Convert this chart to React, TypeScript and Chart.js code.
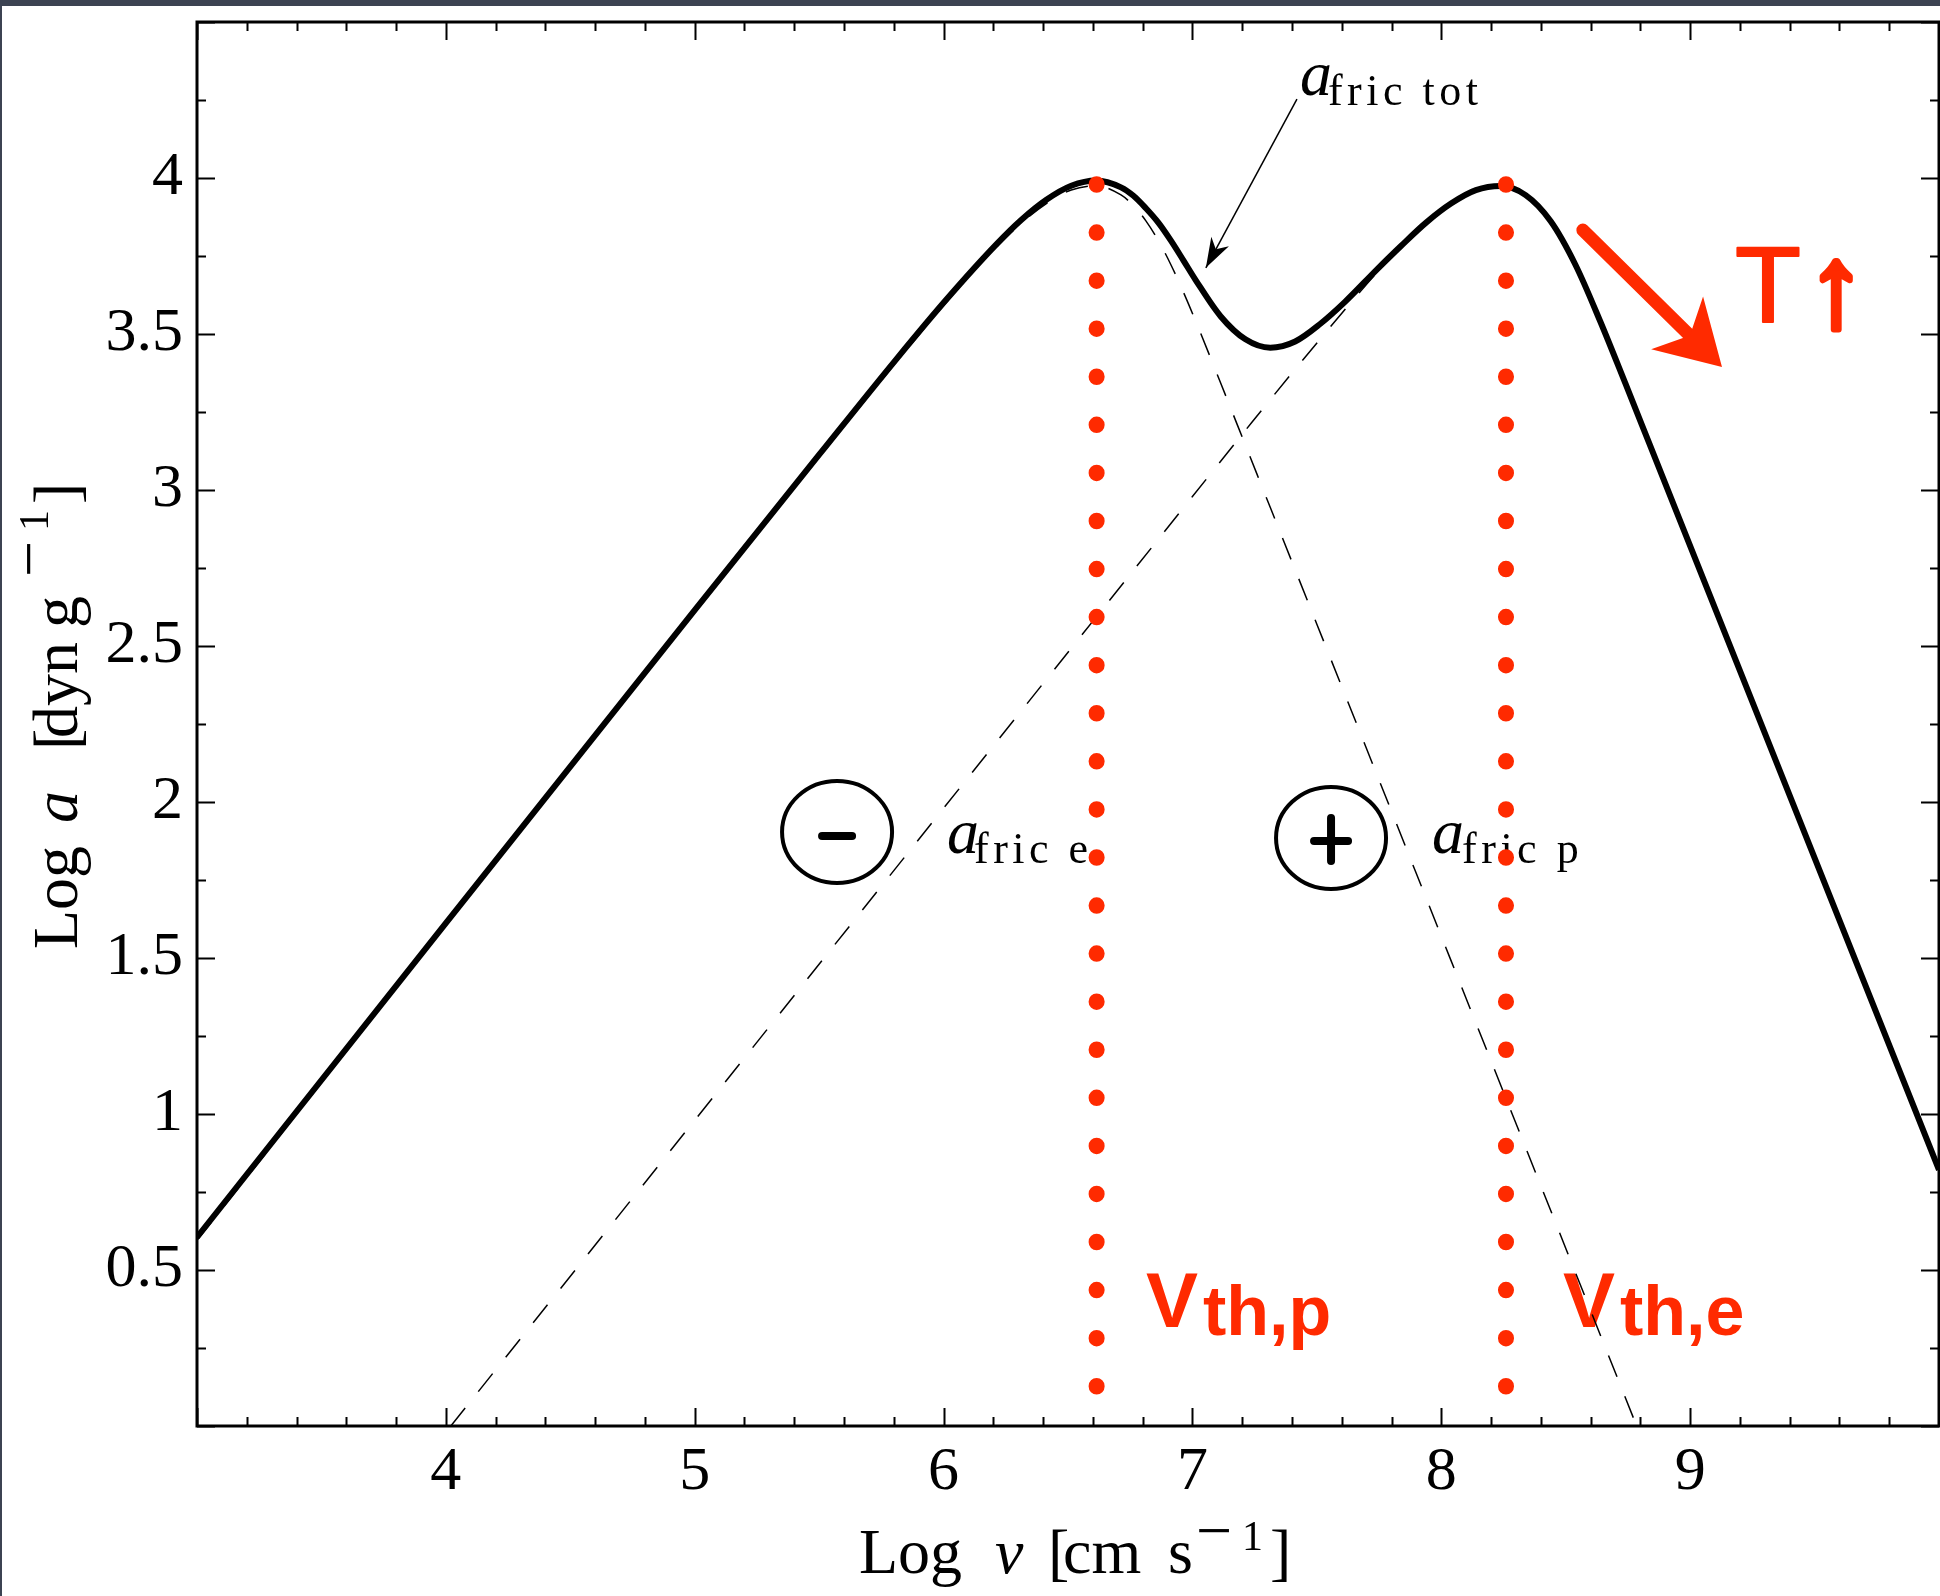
import React, { useEffect, useRef } from "react";
import { Chart, registerables } from "chart.js";

Chart.register(...registerables);

// ---------------- data ----------------
const X_MIN = 3;
const X_MAX = 10;
const Y_MIN = 0;
const Y_MAX = 4.5;

const X_TICK_VALUES = [4, 5, 6, 7, 8, 9];
const X_TICK_LABELS = ["4", "5", "6", "7", "8", "9"];
const Y_TICK_VALUES = [0.5, 1, 1.5, 2, 2.5, 3, 3.5, 4];
const Y_TICK_LABELS = ["0.5", "1", "1.5", "2", "2.5", "3", "3.5", "4"];

// a_fric tot (thick solid)
const TOTAL_X = [3.0, 4.0, 5.0, 5.5, 5.813, 6.013, 6.213, 6.313, 6.413, 6.513, 6.613, 6.713, 6.763, 6.813, 6.863, 6.913, 6.963, 7.013, 7.113, 7.213, 7.313, 7.413, 7.513, 7.613, 7.739, 7.839, 7.939, 8.039, 8.139, 8.239, 8.339, 8.439, 8.539, 8.639, 8.739, 8.839, 8.939, 9.5, 10.0];
const TOTAL_Y = [0.605, 1.612, 2.615, 3.113, 3.422, 3.612, 3.788, 3.866, 3.93, 3.975, 3.992, 3.97, 3.943, 3.903, 3.857, 3.8, 3.737, 3.673, 3.557, 3.483, 3.456, 3.476, 3.532, 3.603, 3.705, 3.783, 3.857, 3.918, 3.961, 3.974, 3.945, 3.862, 3.722, 3.54, 3.343, 3.143, 2.943, 1.821, 0.821];

// a_fric e (dashed, electrons)
const ELEC_X = [4.02, 5.0, 6.0, 7.0, 7.239, 7.439, 7.639, 7.739, 7.839, 7.939, 8.039, 8.139, 8.239, 8.339, 8.439, 8.539, 8.639, 8.739, 8.839, 8.939, 9.5, 10.0];
const ELEC_Y = [0.0, 0.98, 1.98, 2.979, 3.217, 3.4125, 3.603, 3.695, 3.778, 3.855, 3.917, 3.961, 3.974, 3.945, 3.862, 3.722, 3.54, 3.343, 3.143, 2.943, 1.821, 0.821];

// a_fric p (dashed, protons)
const PROT_X = [3.0, 4.0, 5.0, 5.5, 5.813, 6.013, 6.113, 6.213, 6.313, 6.413, 6.513, 6.613, 6.713, 6.763, 6.813, 6.863, 6.913, 6.963, 7.013, 7.113, 7.213, 7.313, 7.5, 8.0, 8.5, 8.785];
const PROT_Y = [0.595, 1.605, 2.607, 3.105, 3.4135, 3.6037, 3.6957, 3.7789, 3.8557, 3.9182, 3.9616, 3.975, 3.9456, 3.9115, 3.8627, 3.7994, 3.7229, 3.6356, 3.5413, 3.3436, 3.1437, 2.9437, 2.57, 1.57, 0.57, 0.0];

// thermal velocities (red dotted verticals)
const VTH_P = 6.615;
const VTH_E = 8.26;
const VTH_DOT_TOP = 3.98;
const VTH_DOT_BOTTOM = 0.125;

// ---------------- styling ----------------
const SERIF = "'Liberation Serif', 'Times New Roman', serif";
const SANS = "'Liberation Sans', Arial, sans-serif";
const RED = "#ff2a00";
const BG_DARK = "#3c4352";

type Seg = { text: string; font: string; dx: number; dy?: number };

const X_TITLE: Seg[] = [
  { text: "Log", font: `64px ${SERIF}`, dx: 0 },
  { text: "v", font: `italic 64px ${SERIF}`, dx: 136 },
  { text: "[", font: `64px ${SERIF}`, dx: 189 },
  { text: "cm", font: `64px ${SERIF}`, dx: 204 },
  { text: "s", font: `64px ${SERIF}`, dx: 309 },
  { text: "\u2212", font: `64px ${SERIF}`, dx: 337, dy: -21 },
  { text: "1", font: `42px ${SERIF}`, dx: 383, dy: -23 },
  { text: "]", font: `64px ${SERIF}`, dx: 411 },
];

const Y_TITLE: Seg[] = [
  { text: "Log", font: `64px ${SERIF}`, dx: 0 },
  { text: "a", font: `italic 64px ${SERIF}`, dx: 126 },
  { text: "[", font: `64px ${SERIF}`, dx: 199 },
  { text: "dyn", font: `64px ${SERIF}`, dx: 211 },
  { text: "g", font: `64px ${SERIF}`, dx: 321 },
  { text: "\u2212", font: `64px ${SERIF}`, dx: 372, dy: -27 },
  { text: "1", font: `42px ${SERIF}`, dx: 418, dy: -29 },
  { text: "]", font: `64px ${SERIF}`, dx: 445 },
];

function drawSegs(ctx: CanvasRenderingContext2D, segs: Seg[], x0: number, y0: number) {
  ctx.textAlign = "left";
  ctx.textBaseline = "alphabetic";
  for (const s of segs) {
    ctx.font = s.font;
    ctx.fillText(s.text, x0 + s.dx, y0 + (s.dy || 0));
  }
}

function toXY(xs: number[], ys: number[]) {
  return xs.map((x, i) => ({ x, y: ys[i] }));
}

const backgroundPlugin = {
  id: "bgPlugin",
  beforeDraw(chart: any) {
    const { ctx, width, height } = chart;
    ctx.save();
    ctx.fillStyle = "#ffffff";
    ctx.fillRect(0, 0, width, height);
    ctx.fillStyle = BG_DARK;
    ctx.fillRect(0, 0, width, 6);
    ctx.fillRect(0, 0, 2, height);
    ctx.restore();
  },
};

function subLabel(ctx: CanvasRenderingContext2D, x: number, y: number, sub: string, subDx: number) {
  ctx.textAlign = "left";
  ctx.textBaseline = "alphabetic";
  ctx.fillStyle = "#000";
  ctx.font = `italic 64px ${SERIF}`;
  ctx.fillText("a", x, y);
  ctx.font = `44px ${SERIF}`;
  (ctx as any).letterSpacing = "4.5px";
  ctx.fillText(sub, x + subDx, y + 10);
  (ctx as any).letterSpacing = "0px";
}

const annotationPlugin = {
  id: "annotations",
  beforeDatasetsDraw(chart: any) {
    const { ctx, scales } = chart;
    const X = (v: number) => scales.x.getPixelForValue(v);
    const Y = (v: number) => scales.y.getPixelForValue(v);
    ctx.save();

    // labels
    subLabel(ctx, X(7.432), Y(4.266), "fric tot", 28);
    subLabel(ctx, X(6.014), Y(1.837), "fric e", 27);
    subLabel(ctx, X(7.963), Y(1.837), "fric p", 30);

    // arrow to total curve
    const ax0 = X(7.42), ay0 = Y(4.253), ax1 = X(7.054), ay1 = Y(3.712);
    ctx.strokeStyle = "#000";
    ctx.lineWidth = 1.5;
    ctx.beginPath();
    ctx.moveTo(ax0, ay0);
    ctx.lineTo(ax1, ay1);
    ctx.stroke();
    {
      const dx = ax0 - ax1, dy = ay0 - ay1;
      const L = Math.hypot(dx, dy);
      const ux = dx / L, uy = dy / L;
      const px = -uy, py = ux;
      ctx.fillStyle = "#000";
      ctx.beginPath();
      ctx.moveTo(ax1, ay1);
      ctx.lineTo(ax1 + ux * 30 + px * 10, ay1 + uy * 30 + py * 10);
      ctx.lineTo(ax1 + ux * 21, ay1 + uy * 21);
      ctx.lineTo(ax1 + ux * 30 - px * 10, ay1 + uy * 30 - py * 10);
      ctx.closePath();
      ctx.fill();
    }

    // circled signs
    ctx.lineWidth = 4;
    ctx.strokeStyle = "#000";
    const mcx = X(5.572), mcy = Y(1.904);
    ctx.beginPath();
    ctx.ellipse(mcx, mcy, 55, 51, 0, 0, Math.PI * 2);
    ctx.stroke();
    ctx.lineCap = "round";
    ctx.lineWidth = 8;
    ctx.beginPath();
    ctx.moveTo(mcx - 15, mcy + 4);
    ctx.lineTo(mcx + 15, mcy + 4);
    ctx.stroke();

    const pcx = X(7.557), pcy = Y(1.885);
    ctx.lineWidth = 4;
    ctx.beginPath();
    ctx.ellipse(pcx, pcy, 55, 51, 0, 0, Math.PI * 2);
    ctx.stroke();
    ctx.lineWidth = 8;
    ctx.beginPath();
    ctx.moveTo(pcx - 17, pcy + 3);
    ctx.lineTo(pcx + 17, pcy + 3);
    ctx.moveTo(pcx, pcy - 20);
    ctx.lineTo(pcx, pcy + 23);
    ctx.stroke();
    ctx.lineCap = "butt";

    // red thermal velocity labels
    ctx.fillStyle = RED;
    ctx.strokeStyle = RED;
    ctx.textAlign = "left";
    ctx.textBaseline = "alphabetic";
    const vy = Y(0.317);
    for (const [xv, sub] of [[6.817, "th,p"], [8.493, "th,e"]] as [number, string][]) {
      const vx = X(xv);
      ctx.font = `bold 78px ${SANS}`;
      ctx.fillText("V", vx - 1, vy);
      ctx.font = `bold 70px ${SANS}`;
      ctx.fillText(sub, vx + 56, vy + 8);
    }

    // T ↑
    ctx.lineJoin = "round";
    ctx.font = `108px ${SANS}`;
    ctx.lineWidth = 2;
    ctx.fillText("T", X(9.192) - 3, Y(3.538));
    ctx.strokeText("T", X(9.192) - 3, Y(3.538));
    ctx.textAlign = "center";
    ctx.font = `bold 116px ${SANS}`;
    ctx.lineWidth = 6;
    ctx.fillText("\u2191", X(9.586), Y(3.538) + 4);
    ctx.strokeText("\u2191", X(9.586), Y(3.538) + 4);
    ctx.textAlign = "left";

    // red sketched arrow
    const rx0 = X(8.569), ry0 = Y(3.833), rx1 = X(9.128), ry1 = Y(3.394);
    {
      const dx = rx1 - rx0, dy = ry1 - ry0;
      const L = Math.hypot(dx, dy);
      const ux = dx / L, uy = dy / L;
      const px = -uy, py = ux;
      ctx.lineWidth = 13;
      ctx.lineCap = "round";
      ctx.beginPath();
      ctx.moveTo(rx0, ry0);
      ctx.lineTo(rx1 - ux * 40, ry1 - uy * 40);
      ctx.stroke();
      ctx.beginPath();
      ctx.moveTo(rx1, ry1);
      ctx.lineTo(rx1 - ux * 63 + px * 37, ry1 - uy * 63 + py * 37);
      ctx.lineTo(rx1 - ux * 45, ry1 - uy * 45);
      ctx.lineTo(rx1 - ux * 63 - px * 37, ry1 - uy * 63 - py * 37);
      ctx.closePath();
      ctx.fill();
      ctx.lineCap = "butt";
    }
    ctx.restore();
  },
};

const framePlugin = {
  id: "frameTicks",
  afterDatasetsDraw(chart: any) {
    const { ctx, chartArea: a, scales } = chart;
    const X = (v: number) => scales.x.getPixelForValue(v);
    const Y = (v: number) => scales.y.getPixelForValue(v);
    ctx.save();
    ctx.strokeStyle = "#000";
    ctx.lineWidth = 2;
    ctx.beginPath();
    // x ticks (major each 1, minor each 0.2), bottom and top, pointing inward
    for (let i = 0; i <= 35; i++) {
      const v = X_MIN + i * 0.2;
      const major = i % 5 === 0;
      const len = major ? 18 : 9;
      const p = Math.round(X(v)) + 0.5;
      ctx.moveTo(p, a.bottom);
      ctx.lineTo(p, a.bottom - len);
      ctx.moveTo(p, a.top);
      ctx.lineTo(p, a.top + len);
    }
    // y ticks (major each 0.5, minor each 0.25)
    for (let i = 0; i <= 18; i++) {
      const v = Y_MIN + i * 0.25;
      const major = i % 2 === 0;
      const len = major ? 18 : 9;
      const p = Math.round(Y(v)) + 0.5;
      ctx.moveTo(a.left, p);
      ctx.lineTo(a.left + len, p);
      ctx.moveTo(a.right, p);
      ctx.lineTo(a.right - len, p);
    }
    ctx.stroke();
    ctx.lineWidth = 3;
    ctx.strokeRect(a.left, a.top, a.right - a.left, a.bottom - a.top);
    ctx.restore();
  },
  afterDraw(chart: any) {
    const { ctx, chartArea: a } = chart;
    ctx.save();
    ctx.fillStyle = "#000";
    drawSegs(ctx, X_TITLE, (a.left + a.right) / 2 - 209, a.bottom + 147);
    ctx.translate(a.left - 120, (a.top + a.bottom) / 2 + 225);
    ctx.rotate(-Math.PI / 2);
    drawSegs(ctx, Y_TITLE, 0, 0);
    ctx.restore();
  },
};

export default function App() {
  const ref = useRef<HTMLCanvasElement | null>(null);

  useEffect(() => {
    if (!ref.current) return;
    const dotDash = [0.5, 47.57];
    const chart = new Chart(ref.current, {
      type: "line",
      data: {
        datasets: [
          {
            label: "v_th,p",
            data: [{ x: VTH_P, y: VTH_DOT_TOP }, { x: VTH_P, y: VTH_DOT_BOTTOM }],
            borderColor: RED,
            borderWidth: 16,
            borderDash: dotDash,
            borderCapStyle: "round",
            pointRadius: 0,
            fill: false,
          },
          {
            label: "v_th,e",
            data: [{ x: VTH_E, y: VTH_DOT_TOP }, { x: VTH_E, y: VTH_DOT_BOTTOM }],
            borderColor: RED,
            borderWidth: 16,
            borderDash: dotDash,
            borderCapStyle: "round",
            pointRadius: 0,
            fill: false,
          },
          {
            label: "a fric tot",
            data: toXY(TOTAL_X, TOTAL_Y),
            borderColor: "#000",
            borderWidth: 6,
            cubicInterpolationMode: "monotone",
            pointRadius: 0,
            fill: false,
          },
          {
            label: "a fric e",
            data: toXY(ELEC_X, ELEC_Y),
            borderColor: "#000",
            borderWidth: 1.5,
            borderDash: [23, 21],
            cubicInterpolationMode: "monotone",
            pointRadius: 0,
            fill: false,
          },
          {
            label: "a fric p",
            data: toXY(PROT_X, PROT_Y),
            borderColor: "#000",
            borderWidth: 1.5,
            borderDash: [23, 21],
            cubicInterpolationMode: "monotone",
            pointRadius: 0,
            fill: false,
          },
        ],
      },
      options: {
        responsive: false,
        maintainAspectRatio: false,
        devicePixelRatio: 1,
        animation: false,
        events: [],
        layout: { padding: { top: 22, right: 1, left: 0, bottom: 0 } },
        plugins: { legend: { display: false }, tooltip: { enabled: false } },
        scales: {
          x: {
            type: "linear",
            min: X_MIN,
            max: X_MAX,
            grid: { display: false, drawTicks: false },
            border: { display: false },
            afterBuildTicks: (s: any) => {
              s.ticks = X_TICK_VALUES.map((v) => ({ value: v }));
            },
            afterFit: (s: any) => {
              s.height = 170;
              s.paddingLeft = 0;
              s.paddingRight = 0;
            },
            ticks: {
              autoSkip: false,
              maxRotation: 0,
              padding: 10,
              color: "#000",
              font: { family: SERIF, size: 62 },
              callback: (v: any) => {
                const i = X_TICK_VALUES.indexOf(Number(v));
                return i >= 0 ? X_TICK_LABELS[i] : "";
              },
            },
          },
          y: {
            type: "linear",
            min: Y_MIN,
            max: Y_MAX,
            grid: { display: false, drawTicks: false },
            border: { display: false },
            afterBuildTicks: (s: any) => {
              s.ticks = Y_TICK_VALUES.map((v) => ({ value: v }));
            },
            afterFit: (s: any) => {
              s.width = 197;
              s.paddingTop = 0;
              s.paddingBottom = 0;
            },
            ticks: {
              autoSkip: false,
              padding: 14,
              color: "#000",
              font: { family: SERIF, size: 62 },
              callback: (v: any) => {
                const i = Y_TICK_VALUES.indexOf(Number(v));
                return i >= 0 ? Y_TICK_LABELS[i] : "";
              },
            },
          },
        },
      },
      plugins: [backgroundPlugin, annotationPlugin, framePlugin],
    } as any);
    return () => chart.destroy();
  }, []);

  return (
    <div style={{ position: "fixed", left: 0, top: 0, width: 1940, height: 1596, background: "#fff" }}>
      <canvas ref={ref} width={1940} height={1596} style={{ display: "block", width: 1940, height: 1596 }} />
    </div>
  );
}
